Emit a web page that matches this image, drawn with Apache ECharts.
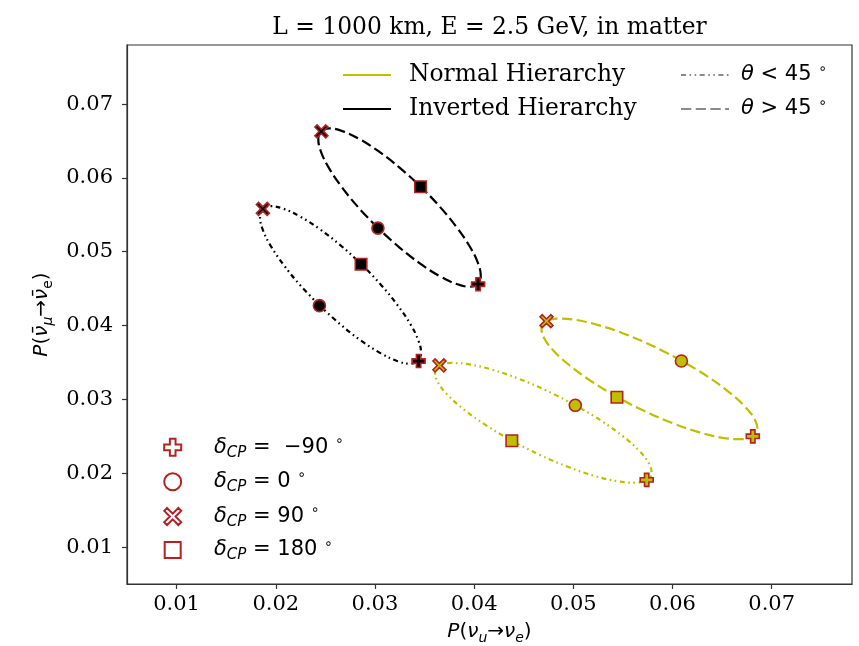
<!DOCTYPE html>
<html><head><meta charset="utf-8">
<script src="https://cdn.jsdelivr.net/npm/echarts@6/dist/echarts.min.js"></script>
<style>html,body{margin:0;padding:0;background:#fff}#c{width:859px;height:646px}</style>
</head><body><div id="c"></div>
<script>
const titleText = 'L = 1000 km, E = 2.5 GeV, in matter';
const xTicks = [0.01, 0.02, 0.03, 0.04, 0.05, 0.06, 0.07];
const yTicks = [0.01, 0.02, 0.03, 0.04, 0.05, 0.06, 0.07];
const hierarchyNames = ['Normal Hierarchy', 'Inverted Hierarchy'];
const thetaNames = ['θ < 45°', 'θ > 45°'];
const deltaNames = ['δCP = −90°', 'δCP = 0°', 'δCP = 90°', 'δCP = 180°'];
const deltaValues = ['−90', '0', '90', '180'];

// ellipse traces [P(nu_mu->nu_e), P(anti nu_mu->anti nu_e)]
const nhHighCurve = [[0.06093,0.03523],[0.05813,0.03717],[0.05530,0.03880],[0.05262,0.04003],[0.05030,0.04076],[0.04848,0.04095],[0.04728,0.04058],[0.04679,0.03968],[0.04705,0.03831],[0.04803,0.03656],[0.04967,0.03456],[0.05185,0.03243],[0.05443,0.03033],[0.05723,0.02839],[0.06007,0.02676],[0.06274,0.02553],[0.06506,0.02480],[0.06688,0.02461],[0.06808,0.02498],[0.06857,0.02588],[0.06831,0.02725],[0.06733,0.02900],[0.06569,0.03100],[0.06351,0.03313],[0.06093,0.03523]];
const nhLowCurve = [[0.05018,0.02923],[0.04737,0.03115],[0.04453,0.03278],[0.04185,0.03401],[0.03953,0.03474],[0.03771,0.03494],[0.03653,0.03458],[0.03606,0.03370],[0.03633,0.03234],[0.03733,0.03061],[0.03898,0.02863],[0.04118,0.02652],[0.04378,0.02443],[0.04659,0.02251],[0.04943,0.02088],[0.05211,0.01965],[0.05443,0.01892],[0.05625,0.01872],[0.05743,0.01908],[0.05790,0.01996],[0.05763,0.02132],[0.05663,0.02305],[0.05498,0.02503],[0.05278,0.02714],[0.05018,0.02923]];
const ihHighCurve = [[0.03033,0.05318],[0.02836,0.05595],[0.02667,0.05873],[0.02537,0.06132],[0.02456,0.06354],[0.02429,0.06525],[0.02458,0.06633],[0.02540,0.06670],[0.02671,0.06634],[0.02841,0.06528],[0.03039,0.06358],[0.03251,0.06136],[0.03463,0.05878],[0.03660,0.05601],[0.03829,0.05323],[0.03959,0.05064],[0.04040,0.04842],[0.04067,0.04671],[0.04038,0.04563],[0.03956,0.04526],[0.03825,0.04562],[0.03655,0.04668],[0.03457,0.04838],[0.03245,0.05060],[0.03033,0.05318]];
const ihLowCurve = [[0.02443,0.04270],[0.02247,0.04546],[0.02079,0.04823],[0.01949,0.05080],[0.01868,0.05302],[0.01841,0.05472],[0.01868,0.05580],[0.01949,0.05617],[0.02078,0.05582],[0.02246,0.05476],[0.02442,0.05308],[0.02653,0.05087],[0.02863,0.04830],[0.03059,0.04554],[0.03227,0.04278],[0.03357,0.04020],[0.03438,0.03798],[0.03465,0.03628],[0.03438,0.03520],[0.03357,0.03483],[0.03228,0.03518],[0.03060,0.03624],[0.02864,0.03792],[0.02653,0.04014],[0.02443,0.04270]];

// markers, order: delta = -90, 0, 90, 180
const nhHighMarks = [[0.0681,0.0250],[0.0609,0.0352],[0.0473,0.0406],[0.0544,0.0303]];
const nhLowMarks  = [[0.0574,0.0191],[0.0502,0.0292],[0.0365,0.0346],[0.0438,0.0244]];
const ihHighMarks = [[0.0404,0.0456],[0.0303,0.0532],[0.0246,0.0663],[0.0346,0.0588]];
const ihLowMarks  = [[0.0344,0.0352],[0.0244,0.0427],[0.0187,0.0558],[0.0286,0.0483]];

const NH = '#bfbf00', IH = '#000000', GRAY = '#8a8a8a', EDGE = '#b22222';
const DASH = [10.3, 4.4];
const DASHDOTDOT = [5, 3.5, 1.6, 3.5, 1.6, 3.5];
const PLUS = 'path://M-1,-3L1,-3L1,-1L3,-1L3,1L1,1L1,3L-1,3L-1,1L-3,1L-3,-1L-1,-1Z';
const CROSS = 'path://M-3,-2L-2,-3L0,-1L2,-3L3,-2L1,0L3,2L2,3L0,1L-2,3L-3,2L-1,0Z';
const symbols = [PLUS, 'circle', CROSS, 'rect'];
const symSizes = [13, 12, 13, 11.5];
const legSizes = [17, 17, 17, 16];

const serif = 'DejaVu Serif';
const sans = 'DejaVu Sans';

function curve(name, data, color, dash) {
  return { name: name, type: 'line', data: data, smooth: 0.4, symbol: 'none', z: 2,
    lineStyle: { color: color, width: 2.2, type: dash, cap: 'butt' }, silent: true };
}
function dummy(name, color, dash) {
  return { name: name, type: 'line', data: [], symbol: 'none', color: color,
    itemStyle: { color: 'rgba(0,0,0,0)', borderWidth: 0 },
    lineStyle: { color: color, width: 2.2, type: dash } };
}

const series = [
  curve('nhHigh', nhHighCurve, NH, DASH),
  curve('nhLow', nhLowCurve, NH, DASHDOTDOT),
  curve('ihHigh', ihHighCurve, IH, DASH),
  curve('ihLow', ihLowCurve, IH, DASHDOTDOT),
  dummy(hierarchyNames[0], NH, 'solid'),
  dummy(hierarchyNames[1], IH, 'solid'),
  dummy(thetaNames[0], GRAY, DASHDOTDOT),
  dummy(thetaNames[1], GRAY, DASH)
];
deltaNames.forEach(function (nm, i) {
  series.push({
    name: nm, type: 'scatter', symbol: symbols[i], symbolSize: symSizes[i], z: 5,
    itemStyle: { color: '#ffffff', borderColor: EDGE, borderWidth: 1.6, opacity: 1 },
    data: [
      { value: nhHighMarks[i], itemStyle: { color: NH } },
      { value: nhLowMarks[i], itemStyle: { color: NH } },
      { value: ihHighMarks[i], itemStyle: { color: IH } },
      { value: ihLowMarks[i], itemStyle: { color: IH } }
    ]
  });
});

const legendBase = { padding: 0, selectedMode: false, orient: 'vertical' };
const legends = [];
legends.push(Object.assign({}, legendBase, { data: [hierarchyNames[0]], left: 342, top: 63, itemWidth: 48, itemHeight: 14,
  textStyle: { fontFamily: serif, fontSize: 23.4, lineHeight: 24, color: '#000', padding: [0, 0, 0, 13] } }));
legends.push(Object.assign({}, legendBase, { data: [hierarchyNames[1]], left: 342, top: 97, itemWidth: 48, itemHeight: 14,
  textStyle: { fontFamily: serif, fontSize: 23.4, lineHeight: 24, color: '#000', padding: [0, 0, 0, 13] } }));
const thetaRich = {
  t: { fontFamily: sans, fontStyle: 'italic', fontSize: 21, lineHeight: 26, color: '#000' },
  n: { fontFamily: sans, fontSize: 21, lineHeight: 26, color: '#000' },
  p: { fontFamily: sans, fontSize: 14, lineHeight: 14, verticalAlign: 'top', color: '#000' }
};
function thetaFmt(name) {
  return name === thetaNames[0] ? '{t|θ}{n| < 45 }{p|∘}' : '{t|θ}{n| > 45 }{p|∘}';
}
legends.push(Object.assign({}, legendBase, { data: [thetaNames[0]], left: 680, top: 62, itemWidth: 48, itemHeight: 14,
  formatter: thetaFmt, textStyle: { padding: [0, 0, 0, 7], rich: thetaRich } }));
legends.push(Object.assign({}, legendBase, { data: [thetaNames[1]], left: 680, top: 96, itemWidth: 48, itemHeight: 14,
  formatter: thetaFmt, textStyle: { padding: [0, 0, 0, 7], rich: thetaRich } }));
const deltaRich = {
  d: { fontFamily: sans, fontStyle: 'italic', fontSize: 21, lineHeight: 26, color: '#000' },
  s: { fontFamily: sans, fontStyle: 'italic', fontSize: 15, lineHeight: 15, verticalAlign: 'bottom', color: '#000' },
  n: { fontFamily: sans, fontSize: 21, lineHeight: 26, color: '#000' },
  p: { fontFamily: sans, fontSize: 14, lineHeight: 14, verticalAlign: 'top', color: '#000' }
};
const deltaCenters = [447.3, 481.7, 516.5, 550];
deltaNames.forEach(function (nm, i) {
  legends.push(Object.assign({}, legendBase, {
    data: [nm], left: 171.7 - legSizes[i] / 2, top: deltaCenters[i] - 13,
    itemWidth: legSizes[i], itemHeight: legSizes[i],
    formatter: function () { return '{d|δ}{s|CP}{n| = ' + (deltaValues[i] === '−90' ? ' −90' : deltaValues[i]) + ' }{p|∘}'; },
    textStyle: { padding: [0, 0, 0, 36.3 - legSizes[i] / 2], rich: deltaRich }
  }));
});

const axisNameRich = {
  i: { fontFamily: sans, fontStyle: 'italic', fontSize: 20, lineHeight: 26, color: '#000' },
  n: { fontFamily: sans, fontSize: 20, lineHeight: 26, color: '#000' },
  s: { fontFamily: sans, fontStyle: 'italic', fontSize: 14, lineHeight: 14, verticalAlign: 'bottom', color: '#000' },
  r: { fontFamily: sans, fontSize: 14, lineHeight: 14, verticalAlign: 'bottom', color: '#000' }
};

const option = {
  animation: false,
  backgroundColor: '#ffffff',
  graphic: [{ type: 'text', x: 489.5, y: 28,
    style: { text: titleText, fontFamily: serif, fontSize: 23.4, fill: '#000', align: 'center', verticalAlign: 'middle' } }],
  grid: { left: 127, right: 7, top: 45, bottom: 62, show: true, borderColor: '#333', borderWidth: 1.2,
    backgroundColor: 'transparent', outerBoundsMode: 'none', containLabel: false },
  legend: legends,
  xAxis: {
    type: 'value', min: 0.005, max: 0.0781,
    name: '{i|P}{n|(}{i|ν}{s|u}{n|→}{i|ν}{s|e}{n|)}', nameLocation: 'middle', nameGap: 35,
    nameTextStyle: { rich: axisNameRich },
    axisLine: { show: true, lineStyle: { color: '#333', width: 1.2 } },
    axisTick: { show: true, customValues: xTicks, length: 5, lineStyle: { color: '#333', width: 1.2 } },
    axisLabel: { customValues: xTicks, margin: 10, fontFamily: serif, fontSize: 21, color: '#000',
      formatter: function (v) { return v.toFixed(2); } },
    splitLine: { show: false }
  },
  yAxis: {
    type: 'value', min: 0.005, max: 0.078,
    name: '{i|P}{n|(}{i|ν̄}{s|μ}{n|→}{i|ν̄}{r|e}{n|)}', nameLocation: 'middle', nameGap: 72, nameRotate: 90,
    nameTextStyle: { rich: axisNameRich },
    axisLine: { show: true, lineStyle: { color: '#333', width: 1.2 } },
    axisTick: { show: true, customValues: yTicks, length: 5, lineStyle: { color: '#333', width: 1.2 } },
    axisLabel: { customValues: yTicks, margin: 14, fontFamily: serif, fontSize: 21, color: '#000',
      formatter: function (v) { return v.toFixed(2); } },
    splitLine: { show: false }
  },
  series: series
};
const chart = echarts.init(document.getElementById('c'), null, { renderer: 'canvas' });
chart.setOption(option);
</script></body></html>
